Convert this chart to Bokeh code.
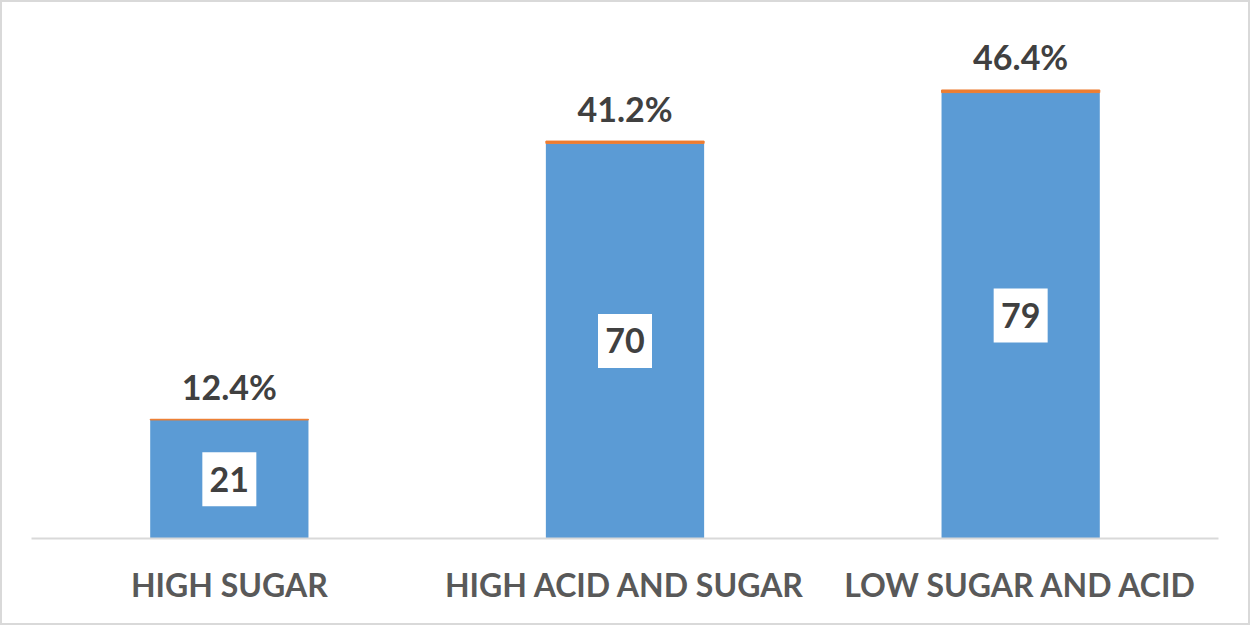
from bokeh.plotting import figure
from bokeh.models import ColumnDataSource, Range1d, FactorRange
from bokeh.core.properties import value
from bokeh.embed import file_html
from bokeh.resources import INLINE

categories = ["HIGH SUGAR", "HIGH ACID AND SUGAR", "LOW SUGAR AND ACID"]
counts = [21, 70, 79]
percents = [12.4, 41.2, 46.4]

pct_frac = [p / 100 for p in percents]
tops = [c + f for c, f in zip(counts, pct_frac)]
src = ColumnDataSource(dict(
    cat=categories,
    count=counts,
    top=tops,
    mid=[c / 2 for c in counts],
    count_lbl=[str(c) for c in counts],
    pct_lbl=[f"{p:.1f}%" for p in percents],
))

p = figure(width=1250, height=625, x_range=FactorRange(*categories, range_padding=0),
           y_range=Range1d(0, 90), output_backend="svg", toolbar_location=None,
           min_border_left=29, min_border_right=34, min_border_top=28, min_border_bottom=89)
p.x_range.range_padding = 0
p.outline_line_color = None
p.xgrid.grid_line_color = None
p.ygrid.grid_line_color = None
p.yaxis.visible = False
p.styles = {"border": "2px solid #d9d9d9", "box-sizing": "border-box"}

p.vbar(x="cat", bottom=0, top="count", width=0.4, source=src, fill_color="#5b9bd5", line_color=None)
p.vbar(x="cat", bottom="count", top="top", width=0.4, source=src, fill_color="#ed7d31", line_color="#ed7d31", line_width=1)

p.rect(x="cat", y="mid", width=54, height=54, width_units="screen", height_units="screen",
       source=src, fill_color="white", line_color=None)
p.text(x="cat", y="mid", text="count_lbl", source=src, text_align="center", text_baseline="middle",
       text_font=value("Lato"), text_font_style="bold", text_font_size="34px", text_color="#404040")
p.text(x="cat", y="top", text="pct_lbl", source=src, text_align="center", text_baseline="middle",
       y_offset=-33, text_font=value("Lato"), text_font_style="bold", text_font_size="34px",
       text_color="#404040")

ax = p.xaxis[0]
ax.axis_line_color = "#d9d9d9"
ax.axis_line_width = 2
ax.major_tick_line_color = None
ax.minor_tick_line_color = None
ax.major_label_text_font = "Lato"
ax.major_label_text_font_style = "bold"
ax.major_label_text_font_size = "32px"
ax.major_label_text_color = "#595959"
ax.major_label_standoff = 20

open("out.html", "w").write(file_html(p, INLINE))
